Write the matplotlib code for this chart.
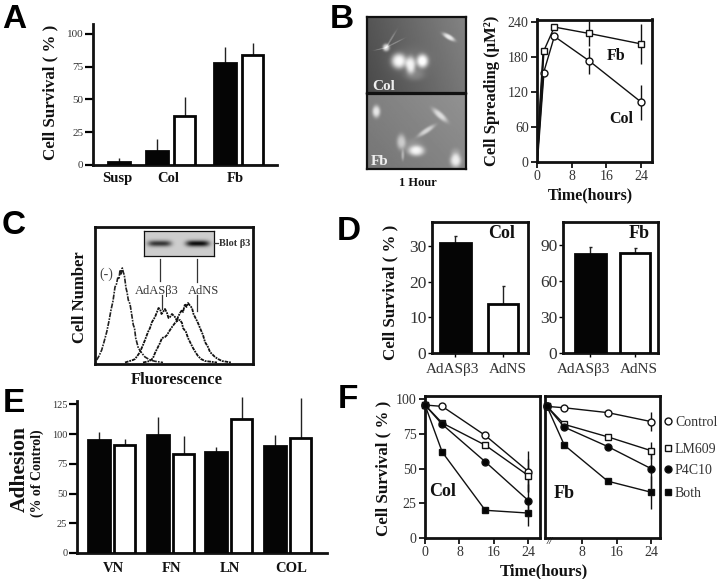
import numpy as np
import matplotlib
matplotlib.use("Agg")
import matplotlib.pyplot as plt
from matplotlib.lines import Line2D

W, H = 720, 579
SERIF = "Liberation Serif"
SANS = "Liberation Sans"
plt.rcParams['font.family'] = [SERIF, 'DejaVu Serif']

# A
a_susp = [2.5]
a_susp_top = [5]
a_black = [10.5, 77.5]
a_black_top = [19.5, 90]
a_white = [37.5, 84]
a_white_top = [51.5, 93]
a_ticks = [0, 25, 50, 75, 100]

# B
b_time = [0, 1.5, 4, 12, 24]
b_fb = [5, 190, 232, 221, 203]
b_col = [0, 153, 216, 174, 103]
b_fb_err = [0, 0, 0, 22, 34]
b_col_err = [0, 0, 0, 22, 30]
b_xticks = [0, 8, 16, 24]
b_yticks = [0, 60, 120, 180, 240]

# C
c_neg_x = [1.7, 4, 6.7, 9, 11.7, 14, 16, 18, 20, 21.5, 22.7, 24, 25, 26, 27.3, 28.5, 29.3, 31, 32, 33.3, 35, 36, 38.3, 39.5, 40.7, 43.3, 46.7, 50, 55, 60, 68]
c_neg_y = [4, 8, 14, 22, 32, 43, 54, 63, 77, 80, 86, 85, 94, 90, 96, 91, 89, 76, 72, 64, 60, 54, 39, 36, 26, 16, 11, 7, 4, 2.7, 1.5]
c_as_x = [30, 38, 40, 43, 45, 48, 50, 53, 55, 57, 60, 62, 63.5, 65, 66.5, 68, 70, 72, 73.5, 75, 77, 80, 82, 85, 87, 88, 91, 93, 96, 98, 101, 103, 106, 110, 122]
c_as_y = [1.5, 4, 5, 9, 12, 19, 24, 32, 36, 42, 47, 52, 56, 55, 50, 52, 55, 51, 46, 47, 50, 47, 43, 44, 41, 36, 32, 26, 20, 16, 11, 8, 5, 3, 1.5]
c_ns_x = [48, 55, 58, 60, 62, 65, 67, 70, 72, 75, 77, 80, 82, 83, 85, 87, 88, 90, 91.5, 93, 94.5, 97, 98.5, 100, 103, 105, 108, 110, 113, 115, 118, 120, 123, 127, 136]
c_ns_y = [1.5, 3, 6, 11, 15, 21, 26, 27, 29, 34, 37, 41, 43, 47, 51, 54, 52, 60, 57, 61, 59, 56, 50, 47, 41, 36, 29, 22, 17, 12, 9, 7, 5, 3, 1.5]

# D
d_labels = ["AdASβ3", "AdNS"]
d_col = [31, 13.7]
d_col_top = [33, 18.7]
d_fb = [82, 83]
d_fb_top = [88.5, 87]

# E
e_cats = ["VN", "FN", "LN", "COL"]
e_black = [95, 99, 84.5, 90]
e_black_top = [101.5, 114, 89.5, 99]
e_white = [91, 83.5, 113, 97]
e_white_top = [95.5, 98, 131, 130]
e_ticks = [0, 25, 50, 75, 100, 125]

# F
f_time = [0, 4, 14, 24]
f_col_control = [96, 95, 74, 48]
f_col_lm609 = [96, 83, 67, 45]
f_col_p4c10 = [96, 82, 55, 27]
f_col_both = [96, 62, 20, 18]
f_col_err = [15, 12, 12, 9]
f_fb_control = [95, 94, 90.5, 84]
f_fb_lm609 = [95, 82, 73, 63]
f_fb_p4c10 = [95, 80, 66, 50]
f_fb_both = [95, 67, 41, 33]
f_fb_err = [7, 6, 14, 12]
f_xticks = [0, 8, 16, 24]
f_yticks = [0, 25, 50, 75, 100]
f_names = ["Control", "LM609", "P4C10", "Both"]

fig = plt.figure(figsize=(W / 100, H / 100), dpi=100, facecolor='white')


def box(x0, y0, x1, y1):
    return fig.add_axes([x0 / W, 1 - y1 / H, (x1 - x0) / W, (y1 - y0) / H])


def ptext(x, y, s, size=10, bold=True, rot=0, **kw):
    kw.setdefault('color', '#111111')
    va = 'center' if rot else 'center_baseline'
    fig.text(x / W, 1 - y / H, s, fontsize=size, rotation=rot, ha='center', va=va,
             fontweight='bold' if bold else 'normal', **kw)


def frame(ax, lw=2.0):
    for s in ax.spines.values():
        s.set_linewidth(lw)
        s.set_color('#111111')


def bars(ax, pos, vals, tops, white, width, lw=2.0, cap=0):
    fc = 'white' if white else '#050505'
    ax.bar(pos, vals, width=width, color=fc, edgecolor='#050505', linewidth=lw, zorder=3)
    ax.vlines(pos, vals, tops, color='#222222', lw=1.0, zorder=2)
    if cap:
        ax.hlines(tops, np.array(pos) - cap, np.array(pos) + cap, color='#222222', lw=1.0, zorder=2)


def open_axes(ax, ticks, size):
    for s in ('top', 'right'):
        ax.spines[s].set_visible(False)
    frame(ax)
    ax.set_yticks(ticks)
    ax.set_xticks([])
    ax.tick_params(axis='y', length=6, width=1.6, labelsize=size, pad=1, labelcolor='#333333')


for letter, x, y in [("A", 14, 19), ("B", 342, 19), ("C", 14, 226), ("D", 349, 232), ("E", 14, 403), ("F", 348, 399)]:
    fig.text(x / W, 1 - y / H, letter, fontsize=24, fontweight='bold', family=SANS, ha='center', va='center', color='black')

# panel A
ax = box(93, 24, 277, 165)
ax.set_xlim(93, 277)
ax.set_ylim(0, 107.4)
open_axes(ax, a_ticks, 8)
bars(ax, [119], a_susp, a_susp_top, False, 22.5)
bars(ax, [157, 225], a_black, a_black_top, False, 22.5)
bars(ax, [184.5, 252.5], a_white, a_white_top, True, 21.5)
ptext(50, 92, "Cell Survival ( % )", 12.2, rot=90)
ptext(117, 177, "Susp", 10.5)
ptext(168, 177, "Col", 10.5)
ptext(235, 177, "Fb", 10.5)


# panel B micrographs
def micrograph(ax, left, right, blobs):
    yy, xx = np.mgrid[0:1:76j, 0:1:100j]
    img = left + (right - left) * xx - 12 * yy
    for cx, cy, sx, sy, ang, amp in blobs:
        c, s = np.cos(ang), np.sin(ang)
        u = (xx - cx) * c + (yy - cy) * s
        v = -(xx - cx) * s + (yy - cy) * c
        img = img + amp * np.exp(-((u / sx) ** 2 + (v / sy) ** 2) ** 1.5)
    ax.imshow(np.clip(img, 0, 255), cmap='gray', vmin=0, vmax=255, aspect='auto', interpolation='bilinear')
    ax.set_xticks([])
    ax.set_yticks([])
    frame(ax, 1.6)


col_cells = [(0.19, 0.40, 0.035, 0.05, 0, 130), (0.32, 0.58, 0.075, 0.1, 0, 145), (0.44, 0.63, 0.05, 0.11, 0, 130),
             (0.56, 0.58, 0.06, 0.09, 0, 145), (0.48, 0.76, 0.1, 0.08, 0, 30), (0.83, 0.26, 0.075, 0.03, 0.7, 115),
             (0.24, 0.29, 0.12, 0.009, -1.14, 50), (0.28, 0.34, 0.1, 0.009, -0.59, 45), (0.13, 0.42, 0.06, 0.009, -0.3, 40),
             (0.42, 0.58, 0.2, 0.18, 0, 15)]
fb_cells = [(0.09, 0.23, 0.04, 0.08, 0, 105), (0.74, 0.28, 0.11, 0.035, 0.9, 85), (0.6, 0.49, 0.11, 0.03, -0.74, 80),
            (0.345, 0.64, 0.045, 0.1, 0, 75), (0.36, 0.82, 0.015, 0.07, 0, 55), (0.5, 0.76, 0.08, 0.07, 0, 105),
            (0.46, 0.7, 0.1, 0.1, 0, 20), (0.9, 0.89, 0.055, 0.09, 0, 105), (0.9, 0.78, 0.05, 0.06, 0, 20)]
micrograph(box(367, 17, 466, 93), 85, 132, col_cells)
micrograph(box(367, 94, 466, 169), 128, 146, fb_cells)
ptext(384, 85, "Col", 11, color='#eeeeee')
ptext(380, 160, "Fb", 11, color='#eeeeee')
ptext(418, 182, "1 Hour", 9)

# panel B line chart
ax = box(537, 19.5, 652, 162)
ax.set_xlim(0, 26.5)
ax.set_ylim(0, 245)
frame(ax)
ax.plot(b_time[:2], b_fb[:2], color='#111111', lw=1.6, zorder=2)
ax.plot(b_time[:2], b_col[:2], color='#111111', lw=1.6, zorder=2)
for vals, err, m in [(b_col, b_col_err, 'o'), (b_fb, b_fb_err, 's')]:
    ax.errorbar(b_time, vals, yerr=err, color='#111111', lw=1.0, marker=m, ms=5, mfc='white',
                mec='#111111', mew=1.0, zorder=3, markevery=[1, 2, 3, 4])
ax.set_xticks(b_xticks)
ax.set_yticks(b_yticks)
ax.tick_params(length=4, width=1.2, labelsize=10, pad=2, labelcolor='#333333')
ptext(616, 54, "Fb", 11.5)
ptext(621, 117, "Col", 11.5)
ptext(590, 193, "Time(hours)", 11.5)
ptext(492, 91, "Cell Spreading (μM²)", 12, rot=90)

# panel C
ax = box(95, 227, 253, 364)
ax.set_xlim(0, 158)
ax.set_ylim(0, 137)
frame(ax)
ax.set_xticks([])
ax.set_yticks([])
ax.plot(c_neg_x, c_neg_y, color='#222222', lw=1.2, ls=(0, (3, 0.7, 1, 0.7)))
ax.plot(c_as_x, c_as_y, color='#111111', lw=1.3, ls=(0, (2, 0.5, 1, 0.5)))
ax.plot(c_ns_x, c_ns_y, color='#111111', lw=1.3, ls=(0, (2, 0.5, 1, 0.5)))
ptext(106, 273, "(-)", 10, bold=False, color='#444444')
ptext(157, 289, "AdASβ3", 9, bold=False, color='#333333')
ptext(203, 289, "AdNS", 9, bold=False, color='#333333')
for x, y0, y1 in [(160, 259, 281), (162, 295, 309), (197, 259, 282), (197, 295, 311)]:
    fig.add_artist(Line2D([x / W, x / W], [1 - y0 / H, 1 - y1 / H], color='#333333', lw=0.9))
fig.add_artist(Line2D([214 / W, 218 / W], [1 - 243 / H, 1 - 243 / H], color='#333333', lw=0.9))
ptext(235, 243, "Blot β3", 7.5, color='#333333')
ptext(80, 297, "Cell Number", 12, rot=90)
ptext(177, 378, "Fluorescence", 12)
blot = box(144, 231, 214, 256)
yy, xx = np.mgrid[0:1:25j, 0:1:70j]
band = np.exp(-((yy - 0.5) / 0.13) ** 2) * (np.exp(-((xx - 0.22) / 0.17) ** 4) * 150 + np.exp(-((xx - 0.77) / 0.17) ** 4) * 190)
blot.imshow(205 - band, cmap='gray', vmin=0, vmax=255, aspect='auto')
blot.set_xticks([])
blot.set_yticks([])
frame(blot, 0.9)

# panel D
ax = box(432, 222, 528, 353)
ax.set_xlim(432, 528)
ax.set_ylim(0, 36.8)
frame(ax)
bars(ax, [455], d_col[:1], d_col_top[:1], False, 31, cap=1.5)
bars(ax, [503], d_col[1:], d_col_top[1:], True, 30, cap=1.5)
ax.set_yticks([0, 10, 20, 30])
ax.set_xticks([455, 503])
ax.set_xticklabels([])
ax.tick_params(length=3, width=1.0, labelsize=12.5, pad=1, labelcolor='#333333')
ptext(502, 232, "Col", 13)
ax = box(563, 222, 658, 353)
ax.set_xlim(563, 658)
ax.set_ylim(0, 109)
frame(ax)
bars(ax, [590], d_fb[:1], d_fb_top[:1], False, 31, cap=1.5)
bars(ax, [635], d_fb[1:], d_fb_top[1:], True, 30, cap=1.5)
ax.set_yticks([0, 30, 60, 90])
ax.set_xticks([590, 635])
ax.set_xticklabels([])
ax.tick_params(length=3, width=1.0, labelsize=12.5, pad=1, labelcolor='#333333')
ptext(639, 232, "Fb", 13)
for x, s in zip([453, 508, 584, 639], d_labels * 2):
    ptext(x, 368, s, 11, bold=False, color='#333333')
ptext(390, 292, "Cell Survival ( % )", 12.2, rot=90)

# panel E
ax = box(77, 396, 327, 553)
ax.set_xlim(77, 327)
ax.set_ylim(0, 132)
open_axes(ax, e_ticks, 7.5)
ax.spines['left'].set_bounds(0, 128)
bars(ax, [99, 158, 216, 275], e_black, e_black_top, False, 22.5)
bars(ax, [124.5, 183.5, 241.5, 300.5], e_white, e_white_top, True, 21)
ptext(20, 469, "Adhesion", 15.5, rot=90)
ptext(37, 473, "(% of Control)", 10, rot=90)
for x, s in zip([113, 171, 230, 291], e_cats):
    ptext(x, 567, s, 10.5)

# panel F
styles = [('o', 'white'), ('s', 'white'), ('o', '#050505'), ('s', '#050505')]


def survival(ax, series, err):
    for vals, e, (m, fc) in zip(series, err, styles):
        ax.errorbar(f_time, vals, yerr=[0, 0, 0, e], color='#111111', lw=1.0, marker=m, ms=5,
                    mfc=fc, mec='#111111', mew=1.0, clip_on=False, zorder=3)
    ax.set_ylim(0, 102.5)
    frame(ax)
    ax.set_yticks(f_yticks)
    ax.tick_params(length=4, width=1.2, labelsize=10, pad=2, labelcolor='#333333')


ax = box(425, 396, 540, 538)
ax.set_xlim(0, 26.7)
survival(ax, [f_col_control, f_col_lm609, f_col_p4c10, f_col_both], f_col_err)
ax.set_xticks(f_xticks)
ax = box(545, 396, 660, 538)
ax.set_xlim(-0.45, 26.0)
survival(ax, [f_fb_control, f_fb_lm609, f_fb_p4c10, f_fb_both], f_fb_err)
ax.set_xticks(f_xticks[1:])
ax.set_yticks([])
ptext(550, 541, "//", 8, bold=False, style='italic')
ptext(443, 489, "Col", 13)
ptext(564, 491, "Fb", 13)
ptext(544, 569, "Time(hours)", 12)
ptext(383, 468, "Cell Survival ( % )", 12.2, rot=90)
for name, y, (m, fc) in zip(f_names, [421, 448, 469, 492], styles):
    fig.add_artist(Line2D([668 / W], [1 - y / H], marker=m, ms=5, mfc=fc, mec='#111111', mew=1.0, ls='none'))
    fig.text(675 / W, 1 - y / H, name, fontsize=10, va='center_baseline', ha='left', color='#333333')

fig.savefig("out.png", dpi=100)
